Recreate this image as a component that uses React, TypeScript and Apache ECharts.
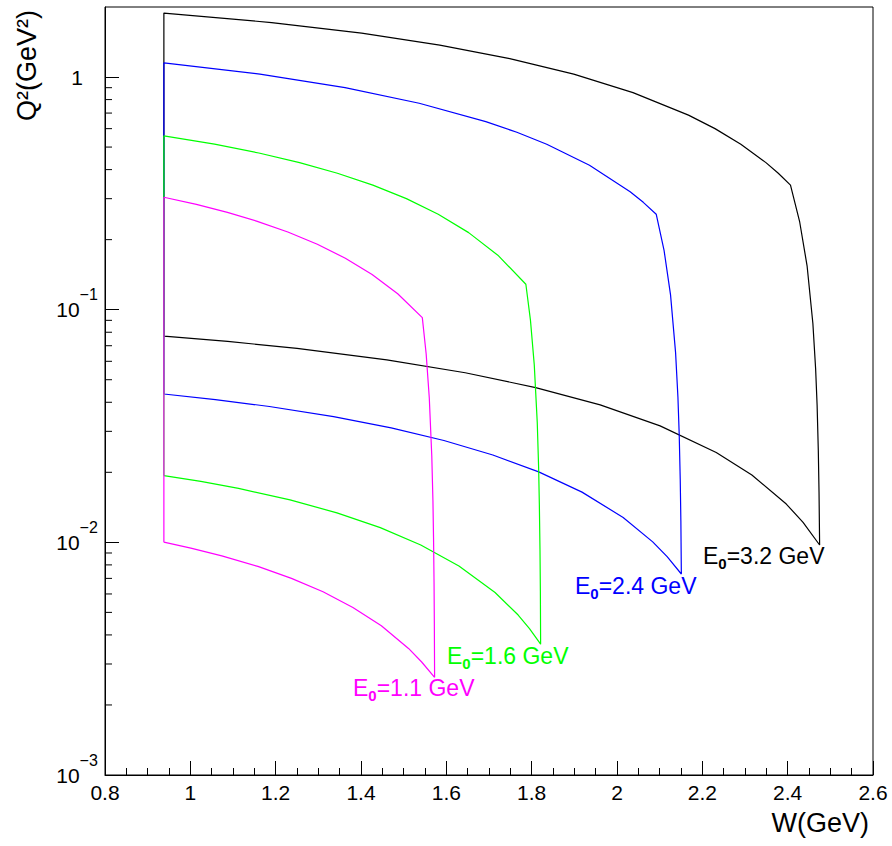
import React, { useEffect, useRef } from 'react';
import * as echarts from 'echarts';

const FONT = '"Liberation Sans", Arial, Helvetica, sans-serif';

// x axis ticks / labels
const xTickLabels = ['0.8', '1', '1.2', '1.4', '1.6', '1.8', '2', '2.2', '2.4', '2.6'];
// y axis (log) major ticks and labels
const yMajorTicks = [0.001, 0.01, 0.1, 1];
const yMajorLabels = ['10{sup|\u22123}', '10{sup|\u22122}', '10{sup|\u22121}', '1'];
const yMinorTicks = [
  0.002, 0.003, 0.004, 0.005, 0.006, 0.007, 0.008, 0.009,
  0.02, 0.03, 0.04, 0.05, 0.06, 0.07, 0.08, 0.09,
  0.2, 0.3, 0.4, 0.5, 0.6, 0.7, 0.8, 0.9,
];

// Kinematic boundaries [W (GeV), Q^2 (GeV^2)] for each beam energy
const boundaryE32: [number, number][] = [
  [0.938, 0.07693], [0.938, 1.883],
  [1.1905, 1.7149], [1.4015, 1.5434], [1.5846, 1.3719], [1.7486, 1.2004], [1.8986, 1.0289],
  [2.0375, 0.8574], [2.1675, 0.686], [2.2297, 0.6002], [2.2902, 0.5145], [2.3491, 0.4287],
  [2.378, 0.3859], [2.4066, 0.343],
  [2.4279, 0.2399], [2.4455, 0.1544], [2.4591, 0.0872], [2.4655, 0.0559], [2.469, 0.0389],
  [2.4718, 0.0249], [2.4735, 0.01646], [2.4749, 0.00974],
  [2.4361, 0.01218], [2.3968, 0.01461], [2.3161, 0.01948], [2.2326, 0.02435], [2.101, 0.03166],
  [1.9606, 0.03897], [1.8093, 0.04627], [1.6442, 0.05358], [1.4605, 0.06089], [1.2501, 0.06819],
  [1.0875, 0.07306], [0.938, 0.07693],
];

const boundaryE24: [number, number][] = [
  [0.938, 0.04341], [0.938, 1.1495],
  [1.1631, 1.0289], [1.3626, 0.9003], [1.5364, 0.7717], [1.6925, 0.6431], [1.7653, 0.5788],
  [1.8353, 0.5145], [1.9355, 0.418], [2.0308, 0.3215], [2.0616, 0.2894], [2.0919, 0.2572],
  [2.1103, 0.1799], [2.1255, 0.1158], [2.1373, 0.0654], [2.1428, 0.042], [2.1458, 0.02917],
  [2.1482, 0.01869], [2.1497, 0.01234], [2.1508, 0.00731],
  [2.1175, 0.008676], [2.0837, 0.01005], [2.0144, 0.01279], [1.918, 0.01644], [1.8165, 0.02009],
  [1.709, 0.02374], [1.5943, 0.0274], [1.4707, 0.03105], [1.3357, 0.0347], [1.1853, 0.03836],
  [1.0587, 0.0411], [0.938, 0.04341],
];

const boundaryE16: [number, number][] = [
  [0.938, 0.01936], [0.938, 0.5584],
  [1.0567, 0.5145], [1.1606, 0.4716], [1.256, 0.4287], [1.3447, 0.3859], [1.4278, 0.343],
  [1.5064, 0.3001], [1.581, 0.2572], [1.6523, 0.2144], [1.7207, 0.1715], [1.7864, 0.1286],
  [1.7972, 0.08994], [1.8061, 0.0579], [1.8131, 0.03271], [1.8163, 0.02098], [1.818, 0.01458],
  [1.8195, 0.00934], [1.8204, 0.00617], [1.821, 0.00365],
  [1.7949, 0.00426], [1.7684, 0.00487], [1.7142, 0.00609], [1.6295, 0.00792], [1.5401, 0.00974],
  [1.4452, 0.01157], [1.3436, 0.01339], [1.2337, 0.01522], [1.113, 0.01705], [1.0246, 0.01827],
  [0.938, 0.01936],
];

const boundaryE11: [number, number][] = [
  [0.938, 0.01002], [0.938, 0.3044],
  [1.0142, 0.2835], [1.0869, 0.2619], [1.1552, 0.2404], [1.2285, 0.2157], [1.2977, 0.1911],
  [1.3633, 0.1664], [1.426, 0.1418], [1.486, 0.1171], [1.5437, 0.0924],
  [1.5527, 0.06465], [1.5601, 0.04161], [1.5659, 0.02351], [1.5686, 0.01508], [1.57, 0.01048],
  [1.5712, 0.00672], [1.5719, 0.00444], [1.5725, 0.00263],
  [1.5422, 0.00306], [1.5114, 0.0035], [1.4477, 0.00438], [1.381, 0.00525], [1.311, 0.00613],
  [1.237, 0.007], [1.1583, 0.00788], [1.0738, 0.00875], [1.0012, 0.00945], [0.938, 0.01002],
];

const energyLabels = ['3.2', '2.4', '1.6', '1.1'];
const colors = ['#000000', '#0000ff', '#00ff00', '#ff00ff'];
const boundaries = [boundaryE32, boundaryE24, boundaryE16, boundaryE11];
// label anchor (top-left, px) for each energy annotation
const labelPos: [number, number][] = [[703, 540], [575, 570], [447, 640], [353, 672]];

export default function App() {
  const ref = useRef<HTMLDivElement>(null);

  useEffect(() => {
    if (!ref.current) return;
    const chart = echarts.init(ref.current, undefined, { renderer: 'svg' });

    const lineSeries = boundaries.map((data, i) => ({
      type: 'line' as const,
      name: 'E0=' + energyLabels[i] + ' GeV',
      data,
      showSymbol: false,
      symbol: 'none',
      silent: true,
      z: 3,
      lineStyle: { color: colors[i], width: 1.2 },
      itemStyle: { color: colors[i] },
    }));

    const minorTickSeries = {
      type: 'custom' as const,
      silent: true,
      clip: false,
      z: 5,
      data: yMinorTicks.map((v) => [0.8, v]),
      renderItem: (_params: any, api: any) => {
        const p = api.coord([api.value(0), api.value(1)]);
        return {
          type: 'line',
          shape: { x1: p[0], y1: p[1], x2: p[0] + 7, y2: p[1] },
          style: { stroke: '#000', lineWidth: 1 },
        };
      },
    };

    const energyTexts = energyLabels.map((e, i) => ({
      type: 'text',
      x: labelPos[i][0],
      y: labelPos[i][1],
      silent: true,
      style: {
        text: 'E{sub|0}=' + e + ' GeV',
        fontSize: 23,
        fontFamily: FONT,
        fill: colors[i],
        lineHeight: 31,
        align: 'left',
        verticalAlign: 'top',
        rich: {
          sub: {
            fontSize: 15,
            fontWeight: 'bold',
            fontFamily: FONT,
            fill: colors[i],
            verticalAlign: 'bottom',
            lineHeight: 15,
          },
        },
      },
    }));

    chart.setOption({
      animation: false,
      backgroundColor: '#ffffff',
      grid: {
        left: 105,
        top: 7,
        width: 768,
        height: 768,
        show: true,
        borderColor: '#000',
        borderWidth: 1,
        backgroundColor: 'transparent',
        containLabel: false,
      },
      xAxis: {
        type: 'value',
        min: 0.8,
        max: 2.6,
        interval: 0.2,
        axisLine: { show: true, lineStyle: { color: '#000', width: 1 } },
        axisTick: { show: true, inside: true, length: 14, lineStyle: { color: '#000', width: 1 } },
        minorTick: { show: true, splitNumber: 4, length: 7, lineStyle: { color: '#000', width: 1 } },
        splitLine: { show: false },
        minorSplitLine: { show: false },
        axisLabel: {
          margin: 7,
          fontSize: 21,
          fontFamily: FONT,
          color: '#000',
          formatter: (v: number) => xTickLabels[Math.round((v - 0.8) / 0.2)] ?? '',
        },
      },
      yAxis: {
        type: 'log',
        logBase: 10,
        min: 0.001,
        max: 2,
        axisLine: { show: true, lineStyle: { color: '#000', width: 1 } },
        axisTick: { show: true, inside: true, length: 14, lineStyle: { color: '#000', width: 1 } },
        minorTick: { show: false },
        splitLine: { show: false },
        axisLabel: {
          margin: 28,
          align: 'center',
          fontSize: 21,
          fontFamily: FONT,
          color: '#000',
          lineHeight: 46,
          showMaxLabel: false,
          formatter: (v: number) => {
            const idx = yMajorTicks.findIndex((t) => Math.abs(Math.log10(v) - Math.log10(t)) < 1e-6);
            return idx >= 0 ? yMajorLabels[idx] : '';
          },
          rich: {
            sup: { fontSize: 16, fontFamily: FONT, color: '#000', verticalAlign: 'top', lineHeight: 16 },
          },
        },
      },
      series: [...lineSeries, minorTickSeries],
      graphic: [
        {
          type: 'text',
          x: 27,
          y: 10,
          rotation: Math.PI / 2,
          silent: true,
          style: {
            text: 'Q\u00b2(GeV\u00b2)',
            fontSize: 27,
            fontFamily: FONT,
            fill: '#000',
            align: 'right',
            verticalAlign: 'middle',
          },
        },
        {
          type: 'text',
          x: 869,
          y: 823,
          silent: true,
          style: {
            text: 'W(GeV)',
            fontSize: 27,
            fontFamily: FONT,
            fill: '#000',
            align: 'right',
            verticalAlign: 'middle',
          },
        },
        ...energyTexts,
      ],
    });

    return () => {
      chart.dispose();
    };
  }, []);

  return (
    <div
      ref={ref}
      style={{ position: 'absolute', left: 0, top: 0, width: 892, height: 846, background: '#fff' }}
    />
  );
}
